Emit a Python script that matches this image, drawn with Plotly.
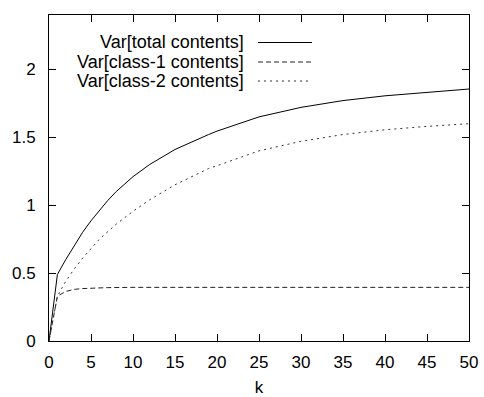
import plotly.graph_objects as go

# ---- data ----
k_total = [0, 1, 2, 3, 4, 5, 6, 7, 8, 10, 12, 15, 19, 20, 25, 30, 35, 40, 45, 50]
var_total = [0, 0.49, 0.60, 0.70, 0.80, 0.885, 0.96, 1.035, 1.10, 1.21, 1.30, 1.41,
             1.52, 1.545, 1.65, 1.72, 1.77, 1.805, 1.83, 1.855]

k_class1 = [0, 1, 2, 3, 4, 5, 7, 10, 15, 20, 30, 40, 50]
var_class1 = [0, 0.33, 0.365, 0.38, 0.386, 0.39, 0.393, 0.395, 0.395, 0.395, 0.395, 0.395, 0.395]

k_class2 = [0, 1, 2, 3, 4, 5, 6, 8, 10, 12, 15, 19, 20, 25, 30, 35, 40, 45, 50]
var_class2 = [0, 0.33, 0.44, 0.53, 0.61, 0.68, 0.75, 0.86, 0.955, 1.04, 1.15, 1.27,
              1.29, 1.40, 1.47, 1.52, 1.555, 1.58, 1.60]

series_names = ["Var[total contents]", "Var[class-1 contents]", "Var[class-2 contents]"]
x_ticks = [0, 5, 10, 15, 20, 25, 30, 35, 40, 45, 50]
y_ticks = [0, 0.5, 1, 1.5, 2]
y_tick_text = ["0", "0.5", "1", "1.5", "2"]

FONT = "Liberation Sans, Arial, sans-serif"
dashes = ["solid", "5px,3px", "2px,4px"]
colors = ["#000000", "#222222", "#333333"]

fig = go.Figure()
for kx, vy, name, d, c in zip([k_total, k_class1, k_class2],
                              [var_total, var_class1, var_class2],
                              series_names, dashes, colors):
    fig.add_trace(go.Scatter(x=kx, y=vy, mode="lines", name=name,
                             line=dict(color=c, width=1, dash=d),
                             showlegend=False))

# manual gnuplot-style legend (text left, sample right)
W, H = 420.0, 326.0
left, top = 49.0, 15.0
def px(x):
    return (x - left) / W
def py(y):
    return (top + H - y) / H

rows_y = [42.5, 62, 81]
for name, d, c, ry in zip(series_names, dashes, colors, rows_y):
    fig.add_annotation(x=px(245), y=py(ry), xref="paper", yref="paper",
                       text=name, showarrow=False, xanchor="right", yanchor="middle",
                       borderpad=0,
                       font=dict(family=FONT, size=18, color="#000"))
    fig.add_shape(type="line", xref="paper", yref="paper",
                  x0=px(258), x1=px(312), y0=py(ry), y1=py(ry),
                  line=dict(color=c, width=1, dash=d))

axis_common = dict(showline=True, linecolor="black", linewidth=1, mirror="ticks",
                   ticks="inside", ticklen=7, tickcolor="black", tickwidth=1,
                   showgrid=False, zeroline=False, automargin=False,
                   tickfont=dict(family=FONT, size=17, color="#000"))

fig.update_xaxes(range=[0, 50], tickvals=x_ticks, ticklabelstandoff=6,
                 title=dict(text="k", font=dict(family=FONT, size=17, color="#000"), standoff=14),
                 **axis_common)
fig.update_yaxes(range=[0, 2.4], tickvals=y_ticks, ticktext=y_tick_text,
                 ticklabelstandoff=9, **axis_common)

fig.update_layout(width=484, height=397, margin=dict(l=49, r=15, t=15, b=56),
                  plot_bgcolor="white", paper_bgcolor="white",
                  font=dict(family=FONT, size=17, color="#000"))

fig.write_html("out.html")
